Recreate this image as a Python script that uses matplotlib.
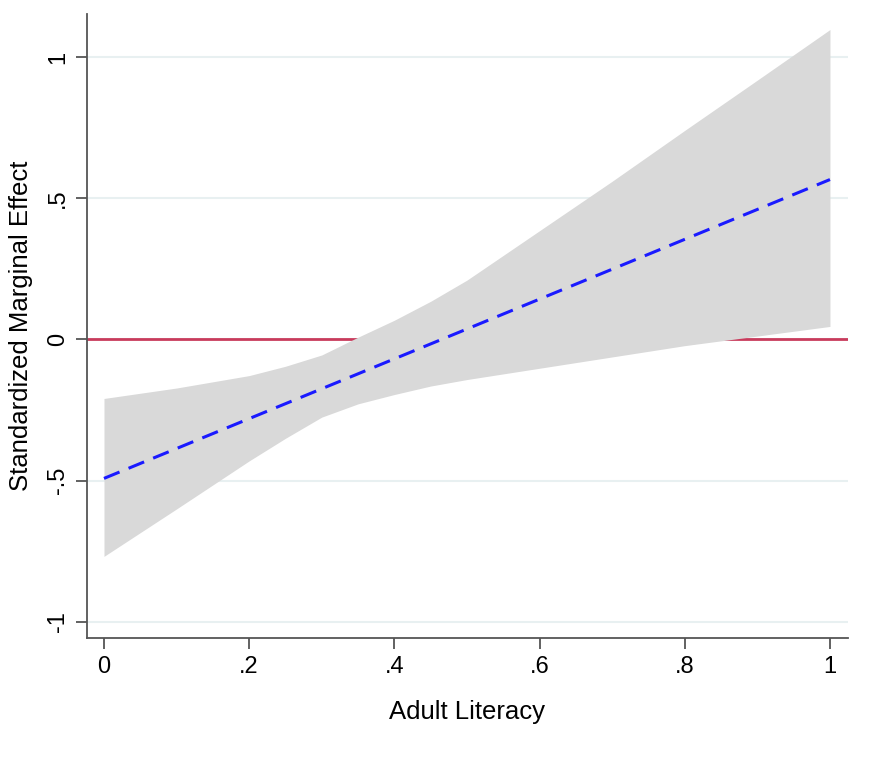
import matplotlib
matplotlib.use("Agg")
import matplotlib.pyplot as plt

# marginal effect estimate (straight line)
line_x = [0.0, 1.0]
line_y = [-0.492, 0.566]

# confidence band
band_x = [0.0, 0.1, 0.2, 0.25, 0.3, 0.35, 0.4, 0.45, 0.5, 0.6, 0.7, 0.8, 0.9, 1.0]
band_hi = [-0.209, -0.172, -0.128, -0.095, -0.055, 0.008, 0.068, 0.135, 0.21, 0.385, 0.56, 0.74, 0.918, 1.097]
band_lo = [-0.768, -0.60, -0.43, -0.35, -0.275, -0.228, -0.195, -0.165, -0.142, -0.102, -0.062, -0.022, 0.012, 0.046]

x_ticks = [0, 0.2, 0.4, 0.6, 0.8, 1.0]
x_ticklabels = ["0", ".2", ".4", ".6", ".8", "1"]
y_ticks = [-1, -0.5, 0, 0.5, 1]
y_ticklabels = ["-1", "-.5", "0", ".5", "1"]

plt.rcParams["font.family"] = ["Liberation Sans", "DejaVu Sans"]

fig = plt.figure(figsize=(8.69, 7.61), dpi=100)
ax = fig.add_axes([0.1001, 0.1616, 0.8757, 0.8200])

for yv in y_ticks:
    ax.axhline(yv, color="#e8f0f1", linewidth=1.5, zorder=0)

ax.axhline(0, color="#c93b5c", linewidth=2, zorder=1)
ax.fill_between(band_x, band_lo, band_hi, color="#d9d9d9", linewidth=0, zorder=2)
ax.plot(line_x, line_y, color="#1a1aff", linewidth=2.2, dashes=(5.5, 3.2), zorder=3)

ax.set_xlim(-0.0234, 1.0248)
ax.set_ylim(-1.057, 1.152)

ax.set_xticks(x_ticks)
ax.set_xticklabels(x_ticklabels)
ax.set_yticks(y_ticks)
ax.set_yticklabels(y_ticklabels, rotation=90, va="center")

for side in ["top", "right"]:
    ax.spines[side].set_visible(False)
for side in ["left", "bottom"]:
    ax.spines[side].set_color("#555555")
    ax.spines[side].set_linewidth(1.3)

ax.tick_params(axis="both", length=8, width=1.3, color="#555555", labelsize=17, pad=5)

ax.set_xlabel("Adult Literacy", fontsize=18.5, labelpad=16)
ax.set_ylabel("Standardized Marginal Effect", fontsize=18.5, labelpad=10)

fig.savefig("out.png", dpi=100)
